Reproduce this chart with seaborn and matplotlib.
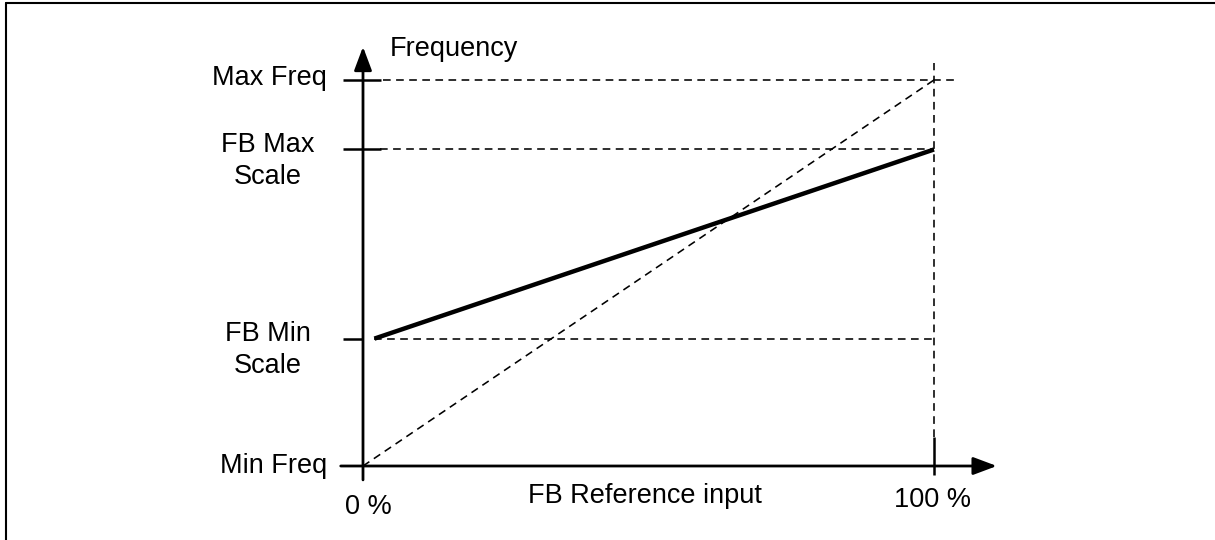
import matplotlib.pyplot as plt
import seaborn as sns
import pandas as pd

sns.set_theme(style="white")
plt.rcParams['font.family'] = ['Liberation Sans', 'DejaVu Sans']
plt.rcParams['text.color'] = 'black'

# levels on the frequency axis (Min Freq = 0, Max Freq = 100)
level_names = ["Min Freq", "FB Min\nScale", "FB Max\nScale", "Max Freq"]
level_values = [0, 33, 82, 100]

# x axis: reference input in %
x_ticks = [0, 100]
x_tick_labels = ["0 %", "100 %"]

# the scaled characteristic (thick line)
ref_input = [2, 100]
freq_out = [33, 82]

# the unscaled 1:1 characteristic (dashed diagonal)
diag_x = [0, 100]
diag_y = [0, 100]

fig = plt.figure(figsize=(12.15, 5.4), dpi=100)
ax = fig.add_axes([363 / 1215, 74 / 540, 571 / 1215, 386 / 540])
ax.set_xlim(0, 100)
ax.set_ylim(0, 100)
ax.axis("off")

fs = 19.5
dash = (0, (4.8, 3.4))
dlw = 1.15

# dashed guide lines
ax.plot(diag_x, diag_y, color="black", lw=dlw, ls=dash, clip_on=False)
ax.hlines(level_values[3], 3.5, 104.2, color="black", lw=dlw, ls=dash, clip_on=False)
ax.hlines(level_values[2], 3, x_ticks[1], color="black", lw=dlw, ls=dash, clip_on=False)
ax.hlines(level_values[1], 2, x_ticks[1], color="black", lw=dlw, ls=dash, clip_on=False)
ax.vlines(x_ticks[1], 7.5, 104.4, color="black", lw=dlw, ls=dash, clip_on=False)

# thick characteristic
df = pd.DataFrame({"ref": ref_input, "freq": freq_out})
sns.lineplot(data=df, x="ref", y="freq", color="black", lw=3.2, ax=ax,
             solid_capstyle="butt")
for ln in ax.get_lines()[-1:]:
    ln.set_clip_on(False)

# axes with arrows
ax.annotate("", xy=(111, 0), xytext=(-3.9, 0),
            arrowprops=dict(arrowstyle="-|>,head_length=1.2,head_width=0.45",
                            color="black", lw=2, shrinkA=0, shrinkB=0),
            annotation_clip=False)
ax.annotate("", xy=(0, 108.6), xytext=(0, -3.6),
            arrowprops=dict(arrowstyle="-|>,head_length=1.2,head_width=0.45",
                            color="black", lw=2, shrinkA=0, shrinkB=0),
            annotation_clip=False)

# ticks
for v in level_values[1:]:
    ax.hlines(v, -3.5, 0 if v == level_values[1] else 3.2, color="black", lw=1.8,
              clip_on=False)
ax.vlines(x_ticks[1], -2.3, 7.5, color="black", lw=1.8, clip_on=False)

# labels
ax.text(4.7, 108, "Frequency", fontsize=fs, ha="left", va="center")
ax.text(-6.3, level_values[3] + 0.5, level_names[3], fontsize=fs, ha="right", va="center")
ax.text(-6.3, level_values[0], level_names[0], fontsize=fs, ha="right", va="center")
for v, name in zip(level_values[1:3], level_names[1:3]):
    ax.text(-16.6, v - 3, name, fontsize=fs, ha="center", va="center",
            multialignment="center", linespacing=1.28)
for x, lab, dx, yy in zip(x_ticks, x_tick_labels, [1, -0.3], [-10.5, -8.9]):
    ax.text(x + dx, yy, lab, fontsize=fs, ha="center", va="center")
ax.text(49.4, -7.8, "FB Reference input", fontsize=fs, ha="center", va="center")

# frame round the figure (only left and top edges visible)
fig.add_artist(plt.Line2D([6 / 1215, 6 / 1215], [0, 1 - 3 / 540], color="black", lw=1.5))
fig.add_artist(plt.Line2D([6 / 1215, 1], [1 - 3 / 540, 1 - 3 / 540], color="black", lw=1.5))

fig.savefig("out.png", dpi=100)
